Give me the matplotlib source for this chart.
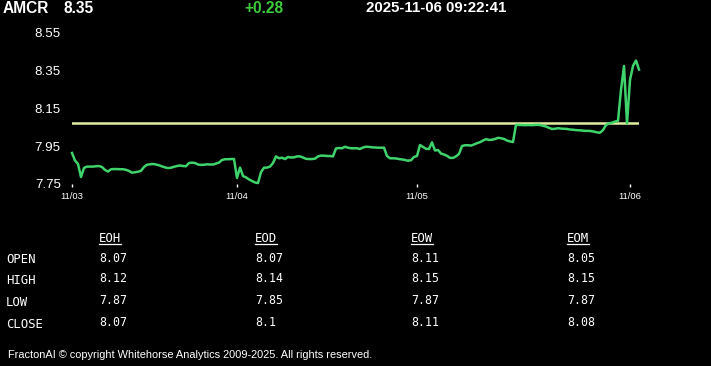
import numpy as np
import matplotlib
matplotlib.use('Agg')
import matplotlib.pyplot as plt
from matplotlib.lines import Line2D

plt.rcParams['font.family'] = ['Liberation Sans', 'DejaVu Sans']

symbol = "AMCR"
last_price = "8.35"
change = "+0.28"
stamp = "2025-11-06 09:22:41"

prev_close = 8.07

# intraday prices, one sample per step (11/03 -> 11/06 morning)
prices = [7.914, 7.874, 7.856, 7.787, 7.835, 7.842, 7.842, 7.842, 7.844, 7.845,
          7.840, 7.824, 7.816, 7.828, 7.829, 7.829, 7.828, 7.828, 7.825, 7.819,
          7.810, 7.812, 7.815, 7.820, 7.840, 7.852, 7.854, 7.856, 7.853, 7.849,
          7.843, 7.838, 7.834, 7.836, 7.841, 7.845, 7.848, 7.845, 7.844, 7.861,
          7.863, 7.861, 7.853, 7.851, 7.852, 7.854, 7.853, 7.853, 7.858, 7.863,
          7.877, 7.881, 7.881, 7.882, 7.882, 7.782, 7.837, 7.792, 7.785, 7.774,
          7.766, 7.758, 7.755, 7.813, 7.836, 7.837, 7.842, 7.861, 7.896, 7.886,
          7.889, 7.882, 7.893, 7.890, 7.891, 7.896, 7.896, 7.890, 7.883, 7.882,
          7.882, 7.884, 7.896, 7.900, 7.900, 7.898, 7.898, 7.896, 7.938, 7.940,
          7.939, 7.947, 7.942, 7.939, 7.939, 7.939, 7.935, 7.943, 7.947, 7.946,
          7.944, 7.943, 7.942, 7.942, 7.942, 7.898, 7.886, 7.886, 7.885, 7.882,
          7.880, 7.877, 7.873, 7.876, 7.893, 7.898, 7.956, 7.946, 7.936, 7.935,
          7.970, 7.927, 7.930, 7.911, 7.906, 7.899, 7.888, 7.888, 7.896, 7.909,
          7.951, 7.955, 7.955, 7.953, 7.959, 7.966, 7.971, 7.980, 7.987, 7.983,
          7.984, 7.988, 7.994, 7.992, 7.988, 7.980, 7.975, 7.972, 8.063, 8.062,
          8.062, 8.061, 8.062, 8.061, 8.062, 8.063, 8.062, 8.058, 8.054, 8.047,
          8.041, 8.042, 8.045, 8.043, 8.042, 8.041, 8.038, 8.037, 8.035, 8.034,
          8.033, 8.031, 8.031, 8.030, 8.027, 8.023, 8.021, 8.035, 8.062, 8.070,
          8.074, 8.080, 8.084, 8.247, 8.374, 8.070, 8.300, 8.374, 8.403, 8.355]

day_ticks = [0, 55, 115, 186]
day_labels = ["11/03", "11/04", "11/05", "11/06"]
y_ticks = [7.75, 7.95, 8.15, 8.35, 8.55]

periods = ["EOH", "EOD", "EOW", "EOM"]
row_names = ["OPEN", "HIGH", "LOW", "CLOSE"]
open_vals = ["8.07", "8.07", "8.11", "8.05"]
high_vals = ["8.12", "8.14", "8.15", "8.15"]
low_vals = ["7.87", "7.85", "7.87", "7.87"]
close_vals = ["8.07", "8.1", "8.11", "8.08"]

footer = "FractonAI \u00a9 copyright Whitehorse Analytics 2009-2025. All rights reserved."

W, H = 711, 366


def px(x, y):
    # pixel position (from top-left) -> figure fraction
    return x / W, 1 - y / H


fig = plt.figure(figsize=(W / 100, H / 100), dpi=100, facecolor='black')
ax = fig.add_axes([72 / W, 1 - 184 / H, 567 / W, (184 - 32.7) / H])
ax.set_facecolor('black')

x = np.arange(len(prices))
ax.axhline(prev_close, color='#e2eea2', lw=1.8, zorder=1)
ax.plot(x, prices, color='#3fd36b', lw=1.8, zorder=2, clip_on=False)

ax.set_xlim(0, len(prices) - 1)
ax.set_ylim(y_ticks[0], y_ticks[-1])
for s in ax.spines.values():
    s.set_visible(False)

ax.set_yticks(y_ticks)
ax.set_yticklabels(["%.2f" % v for v in y_ticks])
ax.set_xticks(day_ticks)
ax.set_xticklabels(day_labels)
ax.tick_params(axis='y', length=0, pad=8, labelsize=9.6, labelcolor='white')
ax.tick_params(axis='x', direction='out', length=2.5, width=1, color='white',
               pad=3, labelsize=6.8, labelcolor='white')

# header
fig.text(*px(3, 8.5), symbol, color='white', fontsize=11.2, fontweight='bold', va='center')
fig.text(*px(64, 8.5), last_price, color='white', fontsize=11.2, fontweight='bold', va='center')
fig.text(*px(244, 8.5), change, color='#3ccc3c', fontsize=11.2, fontweight='bold', va='center')
fig.text(*px(366, 8.5), stamp, color='white', fontsize=10.8, fontweight='bold', va='center')

# period table
mono = 'DejaVu Sans Mono'
col_x = [99, 255, 411, 567]
row_y = [259, 280, 302, 324]
table = [open_vals, high_vals, low_vals, close_vals]

headers = []
for cx, p in zip(col_x, periods):
    headers.append(fig.text(*px(cx, 238.5), p, color='white', fontsize=8.8,
                            family=mono, va='center'))
for ry, name, vals in zip(row_y, row_names, table):
    fig.text(*px(6, ry + 0.5), name, color='white', fontsize=8.8, family=mono, va='center')
    for cx, v in zip(col_x, vals):
        fig.text(*px(cx, ry - 1), v, color='white', fontsize=8.4, family=mono, va='center')

fig.canvas.draw()
for t in headers:
    bb = t.get_window_extent()
    fig.add_artist(Line2D([bb.x0 / W, bb.x1 / W], [1 - 244 / H, 1 - 244 / H],
                          transform=fig.transFigure, color='white', lw=0.9))

fig.text(*px(8, 355), footer, color='white', fontsize=7.9, va='center')

fig.savefig('out.png', dpi=100, facecolor='black')
